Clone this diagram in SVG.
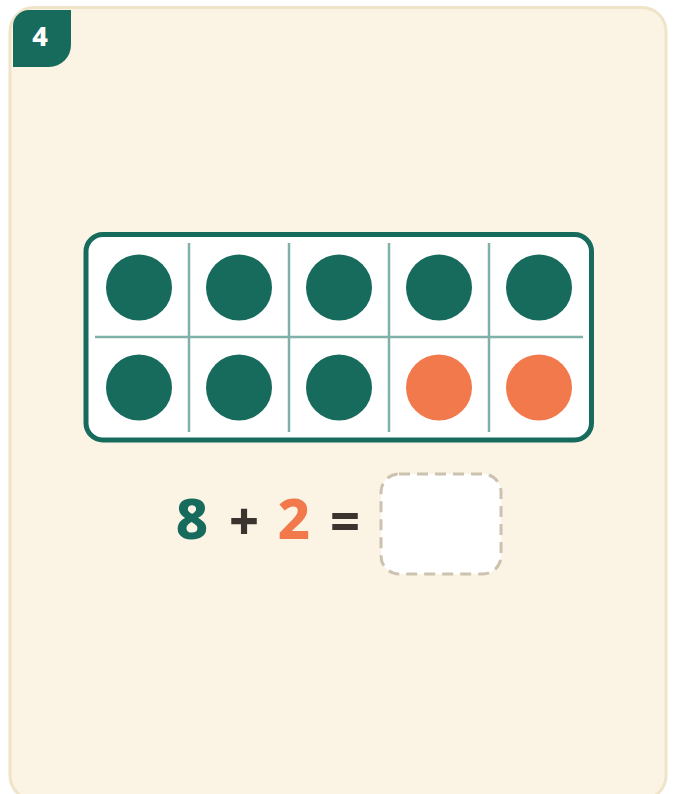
<svg xmlns="http://www.w3.org/2000/svg" width="675" height="794" viewBox="0 0 675 794">
  <style>
    .num { font-family: "Noto Sans", "Open Sans", sans-serif; font-weight: 800; text-anchor: middle; }
    .grid { stroke: #7fb1a8; stroke-width: 2.5; }
    .teal { fill: #176b5c; }
    .orange { fill: #f2794b; }
  </style>
  <g id="card">
    <rect x="10" y="7.5" width="656" height="792" rx="24" fill="#fbf3e4" stroke="#efe3c8" stroke-width="3"/>
  </g>
  <g id="badge">
    <path d="M13,67 L13,26 A16,16 0 0 1 29,10 L71,10 L71,45 A22,22 0 0 1 49,67 Z" fill="#176b5c"/>
    <text x="40" y="46" class="num" font-size="27" fill="#ffffff" font-weight="700">4</text>
  </g>
  <g id="ten-frame">
    <rect x="86" y="234.5" width="505.5" height="205.5" rx="17" fill="#ffffff" stroke="#176b5c" stroke-width="5"/>
    <g id="grid-lines">
      <line class="grid" x1="189" y1="243" x2="189" y2="432"/>
      <line class="grid" x1="289" y1="243" x2="289" y2="432"/>
      <line class="grid" x1="389" y1="243" x2="389" y2="432"/>
      <line class="grid" x1="489" y1="243" x2="489" y2="432"/>
      <line class="grid" x1="95" y1="337" x2="583" y2="337"/>
    </g>
    <g id="counters">
      <circle class="teal" cx="139" cy="287.5" r="33"/>
      <circle class="teal" cx="239" cy="287.5" r="33"/>
      <circle class="teal" cx="339" cy="287.5" r="33"/>
      <circle class="teal" cx="439" cy="287.5" r="33"/>
      <circle class="teal" cx="539" cy="287.5" r="33"/>
      <circle class="teal" cx="139" cy="387.5" r="33"/>
      <circle class="teal" cx="239" cy="387.5" r="33"/>
      <circle class="teal" cx="339" cy="387.5" r="33"/>
      <circle class="orange" cx="439" cy="387.5" r="33"/>
      <circle class="orange" cx="539" cy="387.5" r="33"/>
    </g>
  </g>
  <g id="equation">
    <text x="192" y="539" class="num" font-size="56" fill="#176b5c">8</text>
    <text x="244" y="540" class="num" font-size="52" fill="#3a332e">+</text>
    <text x="294" y="539" class="num" font-size="56" fill="#f2794b">2</text>
    <text x="345" y="540" class="num" font-size="52" fill="#3a332e">=</text>
  </g>
  <g id="answer-box">
    <rect x="381" y="474" width="120" height="100" rx="18" fill="#ffffff" stroke="#cdc2b0" stroke-width="3" stroke-dasharray="11 7"/>
  </g>
</svg>
